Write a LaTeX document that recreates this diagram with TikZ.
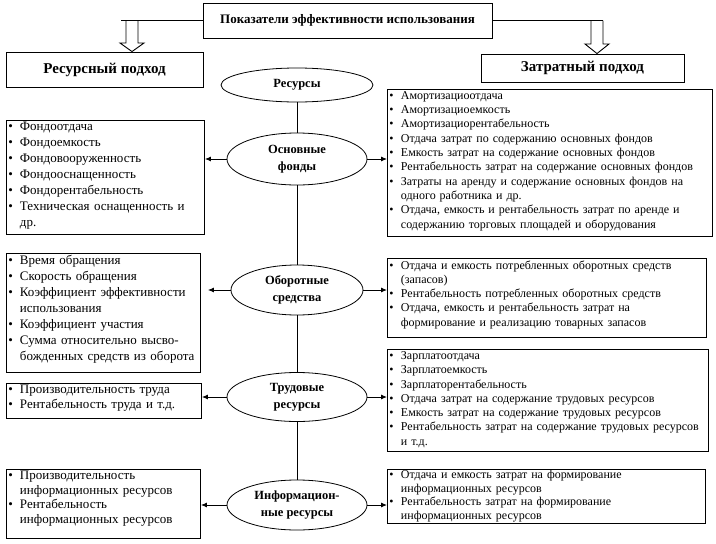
\documentclass[tikz,border=0pt]{standalone}
\usepackage{fontspec}
\setmainfont{Liberation Serif}
\usetikzlibrary{arrows.meta,shapes.geometric,calc}
\newcommand{\bul}{\makebox[11.5pt][l]{\textbullet}}
\newcommand{\wei}{\hspace*{11.5pt}}
\newcommand{\tailgap}[1]{\rule[-#1pt]{0pt}{#1pt}}
\tikzset{
  kopf/.style={draw,line width=0.9pt,inner sep=0pt,font=\bfseries\fontsize{13}{15}\selectfont},
  ansatz/.style={draw,line width=0.9pt,inner sep=0pt,font=\bfseries\fontsize{15}{17}\selectfont},
  oval/.style={draw,ellipse,line width=0.8pt,inner sep=0pt,align=center,
    minimum width=140pt,minimum height=50pt,font=\bfseries\fontsize{12.5}{17}\selectfont},
  liste/.style={draw,line width=0.9pt,anchor=north west,align=left,inner xsep=2pt,inner ysep=2pt,
    font=\fontsize{13}{16}\selectfont},
  listr/.style={liste,font=\fontsize{12}{14.3}\selectfont},
  pfeil/.style={-{Latex[length=6pt,width=5pt]},line width=0.9pt},
  hohl/.style={line width=0.9pt},
}

\begin{document}
\begin{tikzpicture}[x=1pt,y=-1pt]
  \useasboundingbox (0,0) rectangle (716,544);
  % top
  \node[kopf,minimum width=289pt,minimum height=35pt] (top) at (347.5,20.5) {Показатели эффективности использования};
  \node[ansatz,minimum width=197pt,minimum height=35pt] (rp) at (104.5,69.5) {Ресурсный подход};
  \node[ansatz,minimum width=203pt,minimum height=28pt] (zp) at (582.5,68) {Затратный подход};
  \draw[hohl] (top.west) -- (121,0 |- top.west);
  \draw[hohl] (top.east) -- (603,0 |- top.east);
  \draw[hohl] (126,0 |- top.west) -- (126,43) -- (120,43) -- (132,0 |- rp.north) -- (144,43) -- (138,43) -- (138,0 |- top.west);
  \draw[hohl] (591,0 |- top.east) -- (591,44) -- (585,44) -- (597,0 |- zp.north) -- (609,44) -- (603,44) -- (603,0 |- top.east);
  % ellipses
  \node[oval,minimum width=152pt,minimum height=34pt] (res) at (297,85) {Ресурсы};
  \node[oval,minimum height=52pt] (osn) at (297,159) {Основные\\фонды};
  \node[oval,minimum width=132pt] (obo) at (297,290) {Оборотные\\средства};
  \node[oval,minimum height=49pt] (trud) at (297,397) {Трудовые\\ресурсы};
  \node[oval] (info) at (297,505) {Информацион-\\ные ресурсы};
  \draw[hohl] (res) -- (osn);
  \draw[hohl] (osn) -- (obo);
  \draw[hohl] (obo) -- (trud);
  \draw[hohl] (trud) -- (info);
  % left boxes
  \node[liste,text width=194pt] (lf1) at (6,120) {\bul Фондоотдача\\
    \bul Фондоемкость\\
    \bul Фондовооруженность\\
    \bul Фондооснащенность\\
    \bul Фондорентабельность\\
    \bul Техническая оснащенность и\\
    \wei др.\tailgap{5}};
  \node[liste,text width=190pt] (lf2) at (6,253) {\bul Время обращения\\
    \bul Скорость обращения\\
    \bul Коэффициент эффективности\\
    \wei использования\\
    \bul Коэффициент участия\\
    \bul Сумма относительно высво-\\
    \wei божденных средств из оборота\tailgap{10}};
  \node[liste,text width=191pt,font=\fontsize{13}{14.5}\selectfont] (lf3) at (6,383) {\bul Производительность труда\\
    \bul Рентабельность труда и т.д.\tailgap{8}};
  \node[liste,text width=190pt,font=\fontsize{13}{14.5}\selectfont] (lf4) at (6,469) {\bul Производительность\\
    \wei информационных ресурсов\\
    \bul Рентабельность\\
    \wei информационных ресурсов\tailgap{13}};
  % right boxes
  \node[listr,text width=321pt] (rf1) at (387,89) {\bul Амортизациоотдача\\
    \bul Амортизациоемкость\\
    \bul Амортизациорентабельность\\
    \bul Отдача затрат по содержанию основных фондов\\
    \bul Емкость затрат на содержание основных фондов\\
    \bul Рентабельность затрат на содержание основных фондов\\
    \bul Затраты на аренду и содержание основных фондов на\\
    \wei одного работника и др.\\
    \bul Отдача, емкость и рентабельность затрат по аренде и\\
    \wei содержанию торговых площадей и оборудования\tailgap{6}};
  \node[listr,text width=315pt] (rf2) at (387,258) {\bul Отдача и емкость потребленных оборотных средств\\
    \wei (запасов)\\
    \bul Рентабельность потребленных оборотных средств\\
    \bul Отдача, емкость и рентабельность затрат на\\
    \wei формирование и реализацию товарных запасов\tailgap{9}};
  \node[listr,text width=317pt] (rf3) at (387,349) {\bul Зарплатоотдача\\
    \bul Зарплатоемкость\\
    \bul Зарплаторентабельность\\
    \bul Отдача затрат на содержание трудовых ресурсов\\
    \bul Емкость затрат на содержание трудовых ресурсов\\
    \bul Рентабельность затрат на содержание трудовых ресурсов\\
    \wei и т.д.\tailgap{4}};
  \node[listr,text width=314pt,inner ysep=1pt,font=\fontsize{12}{13.6}\selectfont] (rf4) at (387,469) {\bul Отдача и емкость затрат на формирование\\
    \wei информационных ресурсов\\
    \bul Рентабельность затрат на формирование\\
    \wei информационных ресурсов};
  % arrows
  \draw[pfeil] (osn.west) -- (osn.west -| lf1.east);
  \draw[pfeil,shorten >=7pt] (obo.west) -- (obo.west -| lf2.east);
  \draw[pfeil] (trud.west) -- (trud.west -| lf3.east);
  \draw[pfeil] (info.west) -- (info.west -| lf4.east);
  \draw[pfeil] (osn.east) -- (osn.east -| rf1.west);
  \draw[pfeil] (obo.east) -- (obo.east -| rf2.west);
  \draw[pfeil] (trud.east) -- (trud.east -| rf3.west);
  \draw[pfeil] (info.east) -- (info.east -| rf4.west);
\end{tikzpicture}
\end{document}
